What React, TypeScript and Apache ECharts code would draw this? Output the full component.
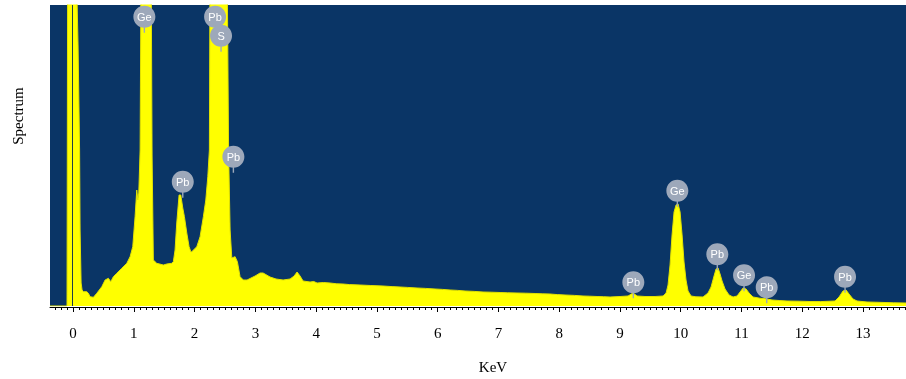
import React, { useEffect, useRef } from "react";
import * as echarts from "echarts";

// Spectrum: [energy keV, counts]
const spectrum: [number, number][] = [
  [-0.38, 0], [-0.1, 0], [-0.089, 3500], [-0.016, 6000], [0.049, 3500],
  [0.082, 2600], [0.107, 1560], [0.115, 760], [0.132, 230], [0.148, 160],
  [0.169, 143], [0.225, 143], [0.252, 127], [0.28, 93], [0.334, 87],
  [0.39, 127], [0.472, 193], [0.527, 260], [0.581, 277], [0.62, 243],
  [0.663, 293], [0.719, 327], [0.801, 377], [0.884, 427], [0.938, 493],
  [0.982, 593], [1.02, 893], [1.048, 1160], [1.065, 1060], [1.081, 1130],
  [1.103, 1560], [1.119, 3500], [1.201, 5000], [1.284, 3500], [1.3, 1500],
  [1.321, 460], [1.377, 427], [1.486, 410], [1.542, 420], [1.624, 427],
  [1.65, 443], [1.678, 560], [1.706, 830], [1.744, 1110], [1.772, 1110],
  [1.805, 980], [1.832, 893], [1.871, 730], [1.909, 593], [1.937, 543],
  [1.953, 543], [2.036, 593], [2.09, 693], [2.144, 893], [2.184, 1060],
  [2.217, 1293], [2.243, 1560], [2.254, 3500], [2.386, 6000], [2.534, 3500],
  [2.559, 1560], [2.584, 760], [2.612, 480], [2.666, 493], [2.704, 443],
  [2.748, 293], [2.802, 260], [2.863, 260], [2.995, 300], [3.077, 330],
  [3.127, 330], [3.242, 290], [3.34, 270], [3.456, 260], [3.571, 270],
  [3.637, 300], [3.686, 340], [3.735, 300], [3.785, 250], [3.9, 240],
  [3.96, 245], [4.015, 230], [4.12, 235], [4.229, 230], [4.34, 222],
  [4.443, 220], [4.55, 214], [4.723, 210], [4.9, 205], [5.101, 200],
  [5.25, 194], [5.381, 190], [5.5, 186], [5.661, 180], [5.8, 176],
  [5.957, 170], [6.08, 166], [6.204, 160], [6.33, 156], [6.451, 150],
  [6.6, 146], [6.747, 140], [6.88, 138], [7.027, 135], [7.15, 132],
  [7.306, 130], [7.45, 128], [7.603, 125], [7.72, 122], [7.849, 120],
  [7.97, 114], [8.096, 110], [8.25, 106], [8.392, 100], [8.5, 98],
  [8.623, 95], [8.73, 93], [8.837, 90], [9.001, 95], [9.133, 100],
  [9.215, 130], [9.281, 100], [9.412, 95], [9.577, 95], [9.709, 100],
  [9.759, 130], [9.791, 210], [9.824, 410], [9.857, 710], [9.89, 940],
  [9.923, 1010], [9.956, 1020], [9.989, 940], [10.022, 710], [10.054, 440],
  [10.087, 260], [10.12, 150], [10.17, 100], [10.25, 92], [10.367, 90],
  [10.449, 130], [10.499, 190], [10.548, 300], [10.581, 370], [10.614, 380],
  [10.647, 320], [10.68, 250], [10.729, 170], [10.795, 110], [10.861, 90],
  [10.927, 100], [10.976, 140], [11.026, 180], [11.075, 170], [11.124, 130],
  [11.19, 90], [11.3, 78], [11.404, 72], [11.502, 60], [11.62, 55],
  [11.749, 50], [11.95, 48], [12.128, 45], [12.3, 44], [12.539, 50],
  [12.605, 90], [12.67, 150], [12.72, 160], [12.769, 120], [12.835, 70],
  [12.901, 50], [13.066, 40], [13.2, 38], [13.362, 35], [13.5, 32],
  [13.707, 30],
];

// Peak identification badges
const labelNames = ["Ge", "Pb", "S", "Pb", "Pb", "Pb", "Ge", "Pb", "Ge", "Pb", "Pb"];
const labelEnergies = [1.173, 2.337, 2.435, 1.805, 2.638, 9.22, 9.944, 10.602, 11.042, 11.415, 12.704];
const labelCounts = [2893, 2893, 2703, 1243, 1493, 237, 1153, 517, 307, 187, 293];

// Axis ticks
const majorTicks = [0, 1, 2, 3, 4, 5, 6, 7, 8, 9, 10, 11, 12, 13];
const minorTicks: number[] = [];
for (let i = -3; i <= 137; i++) minorTicks.push(Math.round(i) / 10);

const X_MIN = -0.38;
const X_MAX = 13.707;
const Y_MAX = 3010;

const badgePath =
  "path://M0,11 C0,4.9 4.9,0 11,0 C17.1,0 22,4.9 22,11 C22,17.1 17.1,22 11,22 C4.9,22 0,17.1 0,11 Z M10.3,21 L11.7,21 L11.7,27 L10.3,27 Z";

export default function App() {
  const ref = useRef<HTMLDivElement>(null);
  useEffect(() => {
    if (!ref.current) return;
    const chart = echarts.init(ref.current, undefined, { renderer: "svg" });
    chart.setOption({
      animation: false,
      grid: {
        left: 50,
        right: 0,
        top: 5,
        bottom: 73,
        show: true,
        backgroundColor: "#0A3566",
        borderWidth: 0,
      },
      xAxis: [
        {
          type: "value",
          min: X_MIN,
          max: X_MAX,
          position: "bottom",
          offset: 1,
          axisLine: { show: true, onZero: false, lineStyle: { color: "#000", width: 1 } },
          axisTick: { show: true, customValues: majorTicks, length: 5, lineStyle: { color: "#000" } },
          axisLabel: {
            customValues: majorTicks,
            color: "#000",
            fontFamily: "Liberation Serif",
            fontSize: 15,
            margin: 18,
          },
          splitLine: { show: false },
        },
        {
          type: "value",
          min: X_MIN,
          max: X_MAX,
          position: "bottom",
          offset: 1,
          axisLine: { show: false, onZero: false },
          axisTick: { show: true, customValues: minorTicks, length: 3, lineStyle: { color: "#000" } },
          axisLabel: { show: false },
          splitLine: { show: false },
        },
      ],
      yAxis: {
        type: "value",
        min: 0,
        max: Y_MAX,
        show: false,
        splitLine: { show: false },
      },
      series: [
        {
          type: "line",
          xAxisIndex: 0,
          data: spectrum,
          showSymbol: false,
          clip: true,
          lineStyle: { color: "#E2E200", width: 1 },
          areaStyle: { color: "#FFFF00", opacity: 1 },
          markLine: {
            silent: true,
            symbol: "none",
            label: { show: false },
            lineStyle: { color: "#1E3F4A", width: 1, type: "solid" },
            data: [{ xAxis: -0.016 }],
          },
          markPoint: {
            silent: true,
            symbol: badgePath,
            symbolSize: [22, 27],
            symbolOffset: [0, 2.5],
            itemStyle: { color: "#9DA8BA" },
            label: {
              show: true,
              formatter: "{b}",
              color: "#fff",
              fontFamily: "Liberation Sans",
              fontSize: 11,
              offset: [0, -2.5],
            },
            data: labelNames.map((n, i) => ({
              name: n,
              coord: [labelEnergies[i], labelCounts[i]],
            })),
          },
        },
      ],
      graphic: [
        {
          type: "text",
          x: 493,
          y: 367,
          style: {
            text: "KeV",
            fill: "#000",
            font: "15px 'Liberation Serif'",
            align: "center",
            verticalAlign: "middle",
          },
        },
        {
          type: "text",
          x: 18,
          y: 116,
          rotation: Math.PI / 2,
          style: {
            text: "Spectrum",
            fill: "#000",
            font: "15px 'Liberation Serif'",
            align: "center",
            verticalAlign: "middle",
          },
        },
      ],
    });
    return () => chart.dispose();
  }, []);
  return (
    <div
      ref={ref}
      style={{ position: "fixed", left: 0, top: 0, width: 906, height: 379 }}
    />
  );
}
